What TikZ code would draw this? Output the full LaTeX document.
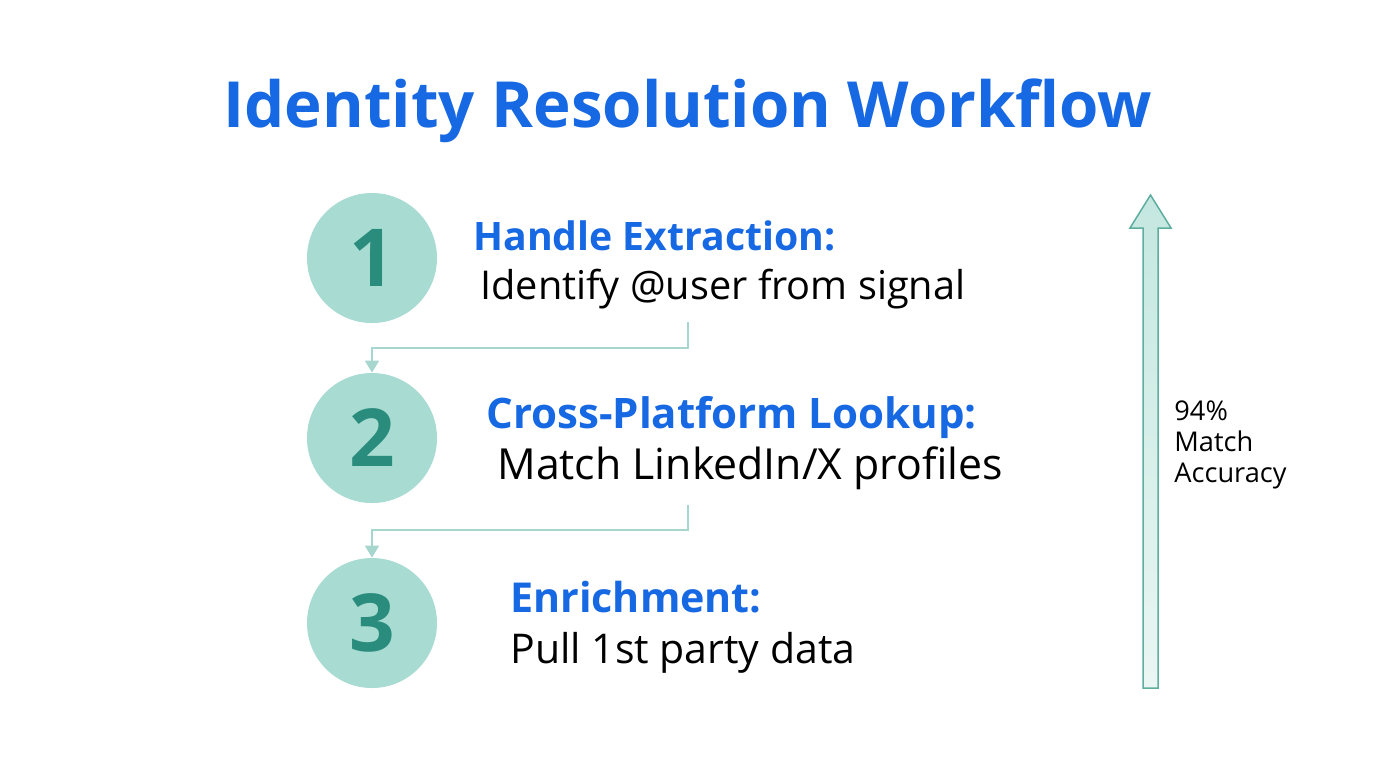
\documentclass[tikz,border=0pt]{standalone}
\usepackage{fontspec}
\setmainfont{Open Sans}
\usetikzlibrary{arrows.meta,positioning}
\definecolor{ttlblue}{HTML}{1668E3}
\definecolor{circfill}{HTML}{A8DCD2}
\definecolor{numteal}{HTML}{2A8C7C}
\definecolor{connteal}{HTML}{A6D6CE}
\definecolor{arrowedge}{HTML}{5DAE9F}
\definecolor{arrowtop}{HTML}{C4E7E0}
\definecolor{arrowbot}{HTML}{EAF6F3}
\tikzset{
  stepcirc/.style={circle,fill=circfill,minimum size=65pt,inner sep=0pt,
    font=\fontsize{40}{40}\selectfont\bfseries,text=numteal},
  headtxt/.style={anchor=base west,inner sep=0pt,text=ttlblue,
    font=\fontsize{#1}{22}\selectfont\bfseries},
  bodytxt/.style={anchor=base west,inner sep=0pt,text=black,
    font=\fontsize{#1}{24}\selectfont},
  conn/.style={draw=connteal,line width=0.75pt,-{Triangle[length=6pt,width=7pt]}},
}
\begin{document}
\begin{tikzpicture}[x=0.5pt,y=-0.5pt]
\useasboundingbox[fill=white] (0,0) rectangle (1376,768);
% title
\node[anchor=base,inner sep=0pt,text=ttlblue,font=\fontsize{31.8}{40}\selectfont\bfseries] (title) at (688,127) {Identity Resolution Workflow};
% circles
\node[stepcirc] (c1) at (372,258) {1};
\node[stepcirc] (c2) at (372,438) {2};
\node[stepcirc] (c3) at (372,623) {3};
% texts
\node[headtxt=19.6] (h1) at (473,250) {Handle Extraction:};
\node[bodytxt=19.85] (b1) at (480,299) {Identify @user from signal};
\node[headtxt=21] (h2) at (486,428) {Cross-Platform Lookup:};
\node[bodytxt=21.4] (b2) at (497,479) {Match LinkedIn/X profiles};
\node[headtxt=20.6] (h3) at (510,612) {Enrichment:};
\node[bodytxt=20.5] (b3) at (510,663) {Pull 1st party data};
% connectors
\coordinate (s1) at (688,322);
\coordinate (s2) at (688,505);
\draw[conn] (s1) -- (688,348) -| (c2.north);
\draw[conn] (s2) -- (688,530) -| (c3.north);
% big arrow
\shade[top color=arrowtop,bottom color=arrowbot,draw=arrowedge,line width=0.75pt]
  (1143,688) -- (1143,228) -- (1130,228) -- (1150.5,195) -- (1171,228) -- (1158,228) -- (1158,688) -- cycle;
\node[anchor=north west,inner sep=0pt,align=left,font=\fontsize{13.6}{15.5}\selectfont] (acc) at (1174,400) {94\%\\Match\\Accuracy};
\end{tikzpicture}
\end{document}
